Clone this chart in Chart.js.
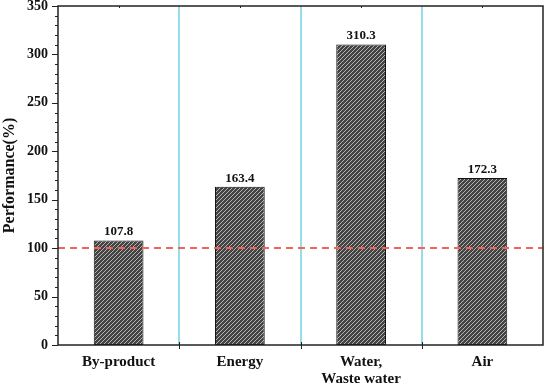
<!DOCTYPE html>
<html lang="en">
<head>
  <meta charset="UTF-8">
  <title>Performance</title>
  <script src="https://cdn.jsdelivr.net/npm/chart.js"></script>
  <style>
    html, body { margin: 0; padding: 0; background: #fff; }
    #wrap { width: 552px; height: 386px; }
  </style>
</head>
<body>
<div id="wrap"><canvas id="grafico" width="552" height="386"></canvas></div>

<script>
  // data
  const categorias = ["By-product", "Energy", ["Water,", "Waste water"], "Air"];
  const valores = [107.8, 163.4, 310.3, 172.3];
  const linhaRef = 100;
  const yMax = 350;
  const yPasso = 50;
  const yMenor = 10;

  const fonte = "'Liberation Serif', 'Times New Roman', serif";

  // hatched fill like the original
  const hachura = (() => {
    const c = document.createElement("canvas");
    c.width = 4; c.height = 4;
    const g = c.getContext("2d");
    g.fillStyle = "#444";
    g.fillRect(0, 0, 4, 4);
    g.strokeStyle = "#b4b4b4";
    g.lineWidth = 1;
    g.beginPath();
    g.moveTo(0, 4); g.lineTo(4, 0);
    g.moveTo(-1, 1); g.lineTo(1, -1);
    g.moveTo(3, 5); g.lineTo(5, 3);
    g.stroke();
    return g.createPattern(c, "repeat");
  })();

  const extras = {
    id: "extras",
    beforeDatasetsDraw(chart) {
      const { ctx, chartArea: a, scales: { x } } = chart;
      ctx.save();
      // cyan separators between categories
      ctx.strokeStyle = "#6fd3e0";
      ctx.lineWidth = 1.5;
      for (let i = 1; i < valores.length; i++) {
        const px = Math.round((x.getPixelForValue(i - 1) + x.getPixelForValue(i)) / 2);
        ctx.beginPath();
        ctx.moveTo(px, a.top);
        ctx.lineTo(px, a.bottom);
        ctx.stroke();
      }
      ctx.restore();
    },
    afterDatasetsDraw(chart) {
      const { ctx, chartArea: a, scales: { x, y } } = chart;
      ctx.save();
      // reference line at 100 %
      const yr = Math.round(y.getPixelForValue(linhaRef));
      ctx.strokeStyle = "#f0645a";
      ctx.lineWidth = 2;
      ctx.setLineDash([7, 5]);
      ctx.beginPath();
      ctx.moveTo(a.left, yr);
      ctx.lineTo(a.right, yr);
      ctx.stroke();
      ctx.setLineDash([]);

      // frame
      ctx.strokeStyle = "#222";
      ctx.lineWidth = 1.5;
      ctx.strokeRect(a.left, a.top, a.right - a.left, a.bottom - a.top);

      // y minor / major ticks
      ctx.lineWidth = 1;
      for (let v = 0; v <= yMax; v += yMenor) {
        const py = Math.round(y.getPixelForValue(v)) + 0.5;
        const len = v % yPasso === 0 ? 6 : 3;
        ctx.beginPath();
        ctx.moveTo(a.left - len, py);
        ctx.lineTo(a.left, py);
        ctx.stroke();
      }
      // x ticks at boundaries (bottom) and small ticks on top
      for (let i = 1; i < valores.length; i++) {
        const px = Math.round((x.getPixelForValue(i - 1) + x.getPixelForValue(i)) / 2) + 0.5;
        ctx.beginPath();
        ctx.moveTo(px, a.bottom - 3);
        ctx.lineTo(px, a.bottom + 4);
        ctx.stroke();
      }
      for (let i = 0; i < valores.length; i++) {
        const px = Math.round(x.getPixelForValue(i)) + 0.5;
        ctx.beginPath();
        ctx.moveTo(px, a.top);
        ctx.lineTo(px, a.top + 2);
        ctx.stroke();
      }

      // value labels
      ctx.fillStyle = "#111";
      ctx.font = "bold 13px " + fonte;
      ctx.textAlign = "center";
      ctx.textBaseline = "bottom";
      chart.getDatasetMeta(0).data.forEach((bar, i) => {
        ctx.fillText(valores[i].toFixed(1), bar.x, bar.y - 2);
      });
      ctx.restore();
    }
  };

  new Chart(document.getElementById("grafico"), {
    type: "bar",
    data: {
      labels: categorias,
      datasets: [{
        data: valores,
        backgroundColor: hachura,
        borderColor: "#111",
        borderWidth: 1,
        borderSkipped: false,
        categoryPercentage: 1,
        barPercentage: 0.41
      }]
    },
    options: {
      responsive: false,
      animation: false,
      layout: { padding: { top: 6, right: 9, left: 0, bottom: 0 } },
      plugins: {
        legend: { display: false },
        tooltip: { enabled: false }
      },
      scales: {
        x: {
          grid: { display: false },
          border: { display: false },
          ticks: {
            color: "#111",
            font: { family: fonte, size: 15, weight: "bold", lineHeight: 1.1 },
            padding: 1,
            maxRotation: 0
          },
          afterFit: s => { s.height = 41; s.paddingLeft = 0; s.paddingRight = 0; }
        },
        y: {
          min: 0,
          max: yMax,
          grid: { display: false },
          border: { display: false },
          ticks: {
            stepSize: yPasso,
            color: "#111",
            padding: 2,
            font: { family: fonte, size: 14, weight: "bold" }
          },
          title: {
            display: true,
            text: "Performance(%)",
            color: "#111",
            font: { family: fonte, size: 16, weight: "bold" },
            padding: { top: 0, bottom: 0 }
          },
          afterFit: s => { s.width = 58; s.paddingTop = 0; s.paddingBottom = 0; }
        }
      }
    },
    plugins: [extras]
  });
</script>
</body>
</html>
